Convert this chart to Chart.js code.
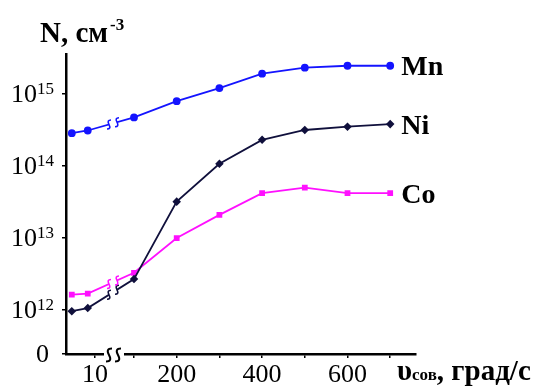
<!DOCTYPE html>
<html>
<head>
<meta charset="utf-8">
<script src="https://cdn.jsdelivr.net/npm/chart.js@4.4.0/dist/chart.umd.min.js"></script>
<style>
  html, body { margin: 0; padding: 0; background: #fff; }
</style>
</head>
<body>
<canvas id="chart" width="537" height="390"></canvas>
<script>
// cooling speed, grad/s
const speeds = [2, 7.5, 100, 200, 300, 400, 500, 600, 700];
// concentration N, cm^-3
const mnValues = [2.85e14, 3.1e14, 4.7e14, 7.9e14, 1.2e15, 1.9e15, 2.3e15, 2.45e15, 2.45e15];
const niValues = [9.7e11, 1.07e12, 2.7e12, 3.2e13, 1.07e14, 2.3e14, 3.15e14, 3.5e14, 3.8e14];
const coValues = [1.65e12, 1.7e12, 3.3e12, 1.0e13, 2.1e13, 4.2e13, 5.0e13, 4.2e13, 4.2e13];

const xTicks = [10, 100, 200, 300, 400, 500, 600, 700];
const xTickLabels = ['10', '', '200', '', '400', '', '600', ''];
const yTickPowers = [12, 13, 14, 15];

const FONT = "'Liberation Serif', 'Times New Roman', serif";

// broken x axis: small speeds stretched on the left, 100..700 after the break
function axisPos(v) {
  return v < 50 ? v * 2.9 : 68 + (v - 100) * 0.427;
}
const LINE_GAP = [43, 51];   // gap in the curves, axis units
const AXIS_GAP = [38, 58];   // gap in the x axis line

const Y_MIN = Math.pow(10, 12 - 44 / 72.5);
const Y_MAX = Math.pow(10, 15 + 40 / 72.5);

function toPoints(values) {
  return speeds.map((v, i) => ({ x: axisPos(v), y: values[i] }));
}

function drawS(ctx, x, y, h, w) {
  ctx.beginPath();
  ctx.moveTo(x + w, y - h / 2);
  ctx.quadraticCurveTo(x - w * 1.2, y - h / 2, x, y);
  ctx.quadraticCurveTo(x + w * 1.2, y + h / 2, x - w, y + h / 2);
  ctx.stroke();
}

const breakPlugin = {
  id: 'breaks',
  afterDatasetsDraw(chart) {
    const ctx = chart.ctx;
    const xs = chart.scales.x;
    const area = chart.chartArea;
    const g0 = xs.getPixelForValue(LINE_GAP[0]);
    const g1 = xs.getPixelForValue(LINE_GAP[1]);
    ctx.save();
    ctx.fillStyle = '#fff';
    ctx.fillRect(g0, area.top, g1 - g0, area.bottom - area.top - 3);

    chart.data.datasets.forEach((ds, di) => {
      const pts = chart.getDatasetMeta(di).data;
      const a = pts[1], b = pts[2];
      ctx.strokeStyle = ds.borderColor;
      ctx.lineWidth = 1.6;
      [g0, g1].forEach((ex) => {
        const t = (ex - a.x) / (b.x - a.x);
        drawS(ctx, ex, a.y + t * (b.y - a.y), 9, 2);
      });
    });

    // break marks on the x axis
    const a0 = xs.getPixelForValue(AXIS_GAP[0]);
    const a1 = xs.getPixelForValue(AXIS_GAP[1]);
    ctx.fillRect(a0, area.bottom - 3, a1 - a0, 6);
    ctx.strokeStyle = '#000';
    ctx.lineWidth = 2;
    drawS(ctx, a0 + 5, area.bottom + 1, 13, 3);
    drawS(ctx, a0 + 14, area.bottom + 1, 13, 3);
    ctx.restore();
  },
  afterDraw(chart) {
    const ctx = chart.ctx;
    const xs = chart.scales.x;
    const ys = chart.scales.y;
    const area = chart.chartArea;
    ctx.save();
    ctx.fillStyle = '#000';
    ctx.textBaseline = 'alphabetic';

    // y tick labels 10^n
    yTickPowers.forEach((p) => {
      const py = ys.getPixelForValue(Math.pow(10, p));
      ctx.font = '26px ' + FONT;
      ctx.textAlign = 'left';
      ctx.fillText('10', 11, py + 8);
      const w = ctx.measureText('10').width;
      ctx.font = '17px ' + FONT;
      ctx.fillText(String(p), 11 + w, py);
    });
    ctx.font = '26px ' + FONT;
    ctx.fillText('0', 36, area.bottom + 8);

    // x tick labels
    ctx.textAlign = 'center';
    xTicks.forEach((v, i) => {
      if (xTickLabels[i]) ctx.fillText(xTickLabels[i], xs.getPixelForValue(axisPos(v)), 382);
    });

    // series names at the line ends
    ctx.textAlign = 'left';
    ctx.font = 'bold 28px ' + FONT;
    chart.data.datasets.forEach((ds, di) => {
      const pts = chart.getDatasetMeta(di).data;
      const last = pts[pts.length - 1];
      ctx.fillText(ds.label, last.x + 11, last.y + 9.5);
    });

    // axis titles
    ctx.font = 'bold 29px ' + FONT;
    ctx.fillText('N, см', 40, 42);
    let w = ctx.measureText('N, см').width;
    ctx.font = 'bold 17px ' + FONT;
    ctx.fillText('-3', 40 + w + 2, 30);

    let tx = 397;
    ctx.font = 'bold 29px ' + FONT;
    ctx.fillText('υ', tx, 380);
    tx += ctx.measureText('υ').width;
    ctx.font = 'bold 17px ' + FONT;
    ctx.fillText('сов', tx, 380);
    tx += ctx.measureText('сов').width;
    ctx.font = 'bold 29px ' + FONT;
    ctx.fillText(', град/с', tx, 380);
    ctx.restore();
  }
};

const axisLine = { display: true, color: '#000', width: 2.5 };
const tickMarks = { drawOnChartArea: false, drawTicks: true, tickLength: 4, color: '#000', lineWidth: 1.5 };

new Chart(document.getElementById('chart'), {
  type: 'line',
  data: {
    datasets: [
      { label: 'Mn', data: toPoints(mnValues), borderColor: '#1414ff', backgroundColor: '#1414ff',
        pointStyle: 'circle', pointRadius: 3, borderWidth: 1.8 },
      { label: 'Ni', data: toPoints(niValues), borderColor: '#10103c', backgroundColor: '#10103c',
        pointStyle: 'rectRot', pointRadius: 3, borderWidth: 1.8 },
      { label: 'Co', data: toPoints(coValues), borderColor: '#ff10ff', backgroundColor: '#ff10ff',
        pointStyle: 'rect', pointRadius: 2.8, borderWidth: 1.8 },
    ],
  },
  options: {
    responsive: false,
    animation: false,
    devicePixelRatio: 1,
    layout: { padding: { left: 0, top: 54, right: 121, bottom: 0 } },
    plugins: { legend: { display: false }, tooltip: { enabled: false } },
    elements: { line: { tension: 0 } },
    scales: {
      x: {
        type: 'linear',
        min: 0,
        max: 350,
        afterBuildTicks(scale) { scale.ticks = xTicks.map((v) => ({ value: axisPos(v) })); },
        afterFit(scale) { scale.height = 36; },
        ticks: { display: false },
        grid: tickMarks,
        border: axisLine,
      },
      y: {
        type: 'logarithmic',
        min: Y_MIN,
        max: Y_MAX,
        afterBuildTicks(scale) {
          scale.ticks = [{ value: Y_MIN }].concat(yTickPowers.map((p) => ({ value: Math.pow(10, p) })));
        },
        afterFit(scale) { scale.width = 66; },
        ticks: { display: false },
        grid: tickMarks,
        border: axisLine,
      },
    },
  },
  plugins: [breakPlugin],
});
</script>
</body>
</html>
